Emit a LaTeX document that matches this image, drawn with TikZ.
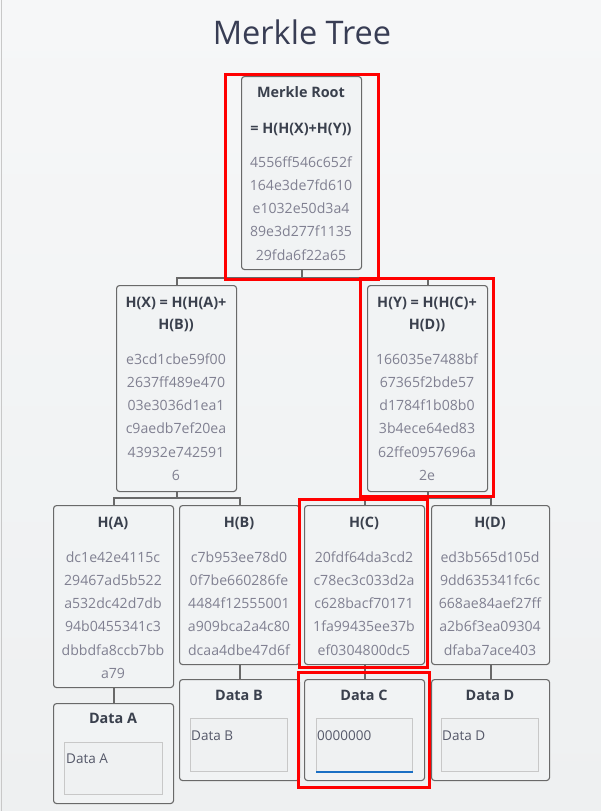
\documentclass[tikz,border=0pt]{standalone}
\usepackage{fontspec}
\setmainfont{Open Sans}
\usetikzlibrary{calc}
\definecolor{bgtop}{RGB}{246,247,248}
\definecolor{bgbot}{RGB}{238,240,241}
\definecolor{boxline}{RGB}{105,105,105}
\definecolor{boxfill}{RGB}{241,243,244}
\definecolor{titlecol}{RGB}{56,61,84}
\definecolor{headcol}{RGB}{58,64,77}
\definecolor{hashcol}{RGB}{128,128,145}
\definecolor{inline}{RGB}{200,200,200}
\definecolor{infill}{RGB}{239,241,242}
\definecolor{intext}{RGB}{85,88,105}
\definecolor{focusblue}{RGB}{26,111,196}
\definecolor{hilite}{RGB}{255,0,0}
\tikzset{
  treebox/.style={draw=boxline, fill=boxfill, line width=1.1pt, rounded corners=3pt, inner sep=0pt, anchor=north west},
  inbox/.style={draw=inline, fill=infill, line width=1pt, inner sep=0pt, anchor=north west},
  headtxt/.style={font=\fontsize{14.4}{16}\selectfont\bfseries, text=headcol, anchor=base, inner sep=0pt},
  hashtxt/.style={font=\fontsize{14.1}{16}\selectfont, text=hashcol, anchor=base, inner sep=0pt},
  intxt/.style={font=\fontsize{13.5}{15}\selectfont, text=intext, anchor=base west, inner sep=0pt},
  link/.style={draw=boxline, line width=2pt},
  redframe/.style={draw=hilite, line width=3pt}
}
\newcommand{\hashlines}[5]{%
  \foreach \t [count=\i] in {#5} {
    \node[hashtxt] (#1-\i) at (#2, {#3+(\i-1)*#4}) {\t};
  }%
}
\begin{document}
\begin{tikzpicture}[x=1pt,y=-1pt]
\useasboundingbox (0,0) rectangle (601,811);
\shade[top color=bgtop, bottom color=bgbot] (0,0) rectangle (601,811);
\draw[inline, line width=1pt] (1,0) -- (1,811);

\node[font=\fontsize{32.5}{36}\selectfont, text=titlecol, anchor=base] (title) at (302,44) {Merkle Tree};

% boxes
\node[treebox, minimum width=120pt, minimum height=193pt] (root) at (241,76) {};
\node[treebox, minimum width=120pt, minimum height=206pt] (hx) at (116,285) {};
\node[treebox, minimum width=120pt, minimum height=206pt] (hy) at (367,285) {};
\node[treebox, minimum width=120pt, minimum height=182pt] (ha) at (53,505) {};
\node[treebox, minimum width=120pt, minimum height=159pt] (hb) at (179,505) {};
\node[treebox, minimum width=120pt, minimum height=159pt] (hc) at (304,505) {};
\node[treebox, minimum width=118pt, minimum height=159pt] (hd) at (431,505) {};
\node[treebox, minimum width=120pt, minimum height=100pt] (da) at (53,703) {};
\node[treebox, minimum width=120pt, minimum height=101pt] (db) at (179,679) {};
\node[treebox, minimum width=120pt, minimum height=101pt] (dc) at (304,679) {};
\node[treebox, minimum width=118pt, minimum height=101pt] (dd) at (431,679) {};

% input fields
\node[inbox, minimum width=98pt, minimum height=52pt] (ia) at (64,742) {};
\node[inbox, minimum width=97pt, minimum height=53pt] (ib) at (190,718) {};
\node[inbox, minimum width=96pt, minimum height=53pt] (ic) at (316,718) {};
\node[inbox, minimum width=97pt, minimum height=53pt] (id) at (441,718) {};
\draw[focusblue, line width=1.5pt] (ic.south west) -- (ic.south east);

% connectors
\coordinate (j1) at ($(root.south)+(0,8)$);
\draw[link] (root.south) -- (j1) -| (hx.north);
\draw[link] (j1) -| (hy.north);
\coordinate (j2) at ($(hx.south)+(0,6)$);
\draw[link] (hx.south) -- (j2) -| (ha.north);
\draw[link] (j2) -| (hb.north);
\coordinate (j3) at ($(hy.south)+(0,6)$);
\draw[link] (hy.south) -- (j3) -| (hc.north);
\draw[link] (j3) -| (hd.north);
\draw[link] (ha.south) -- (da.north);
\draw[link] (hb.south) -- (db.north);
\draw[link] (hc.south) -- (dc.north);
\draw[link] (hd.south) -- (dd.north);

% root text
\node[headtxt] (rt1) at (301,97) {Merkle Root};
\node[headtxt] (rt2) at (301,133) {= H(H(X)+H(Y))};
\hashlines{rh}{301}{167}{23.3}{4556ff546c652f,164e3de7fd610,e1032e50d3a4,89e3d277f1135,29fda6f22a65}

% H(X)
\node[headtxt] (xt1) at (176,307) {H(X) = H(H(A)+};
\node[headtxt] (xt2) at (176,329) {H(B))};
\hashlines{xh}{176}{364}{23.3}{e3cd1cbe59f00,2637ff489e470,03e3036d1ea1,c9aedb7ef20ea,43932e742591,6}

% H(Y)
\node[headtxt] (yt1) at (427,307) {H(Y) = H(H(C)+};
\node[headtxt] (yt2) at (427,329) {H(D))};
\hashlines{yh}{427}{364}{23.3}{166035e7488bf,67365f2bde57,d1784f1b08b0,3b4ece64ed83,62ffe0957696a,2e}

% leaves
\node[headtxt] (at1) at (113,527) {H(A)};
\hashlines{ah}{113}{562}{23.3}{dc1e42e4115c,29467ad5b522,a532dc42d7db,94b0455341c3,dbbdfa8ccb7bb,a79}
\node[headtxt] (bt1) at (239,527) {H(B)};
\hashlines{bh}{239}{562}{23.3}{c7b953ee78d0,0f7be660286fe,4484f12555001,a909bca2a4c80,dcaa4dbe47d6f}
\node[headtxt] (ct1) at (364,527) {H(C)};
\hashlines{ch}{364}{562}{23.3}{20fdf64da3cd2,c78ec3c033d2a,c628bacf70171,1fa99435ee37b,ef0304800dc5}
\node[headtxt] (dt1) at (490,527) {H(D)};
\hashlines{dh}{490}{562}{23.3}{ed3b565d105d,9dd635341fc6c,668ae84aef27ff,a2b6f3ea09304,dfaba7ace403}

% data titles
\node[headtxt] (dat) at (113,723) {Data A};
\node[headtxt] (dbt) at (239,700) {Data B};
\node[headtxt] (dct) at (364,700) {Data C};
\node[headtxt] (ddt) at (490,700) {Data D};
\node[intxt] (iat) at (66,763) {Data A};
\node[intxt] (ibt) at (191,740) {Data B};
\node[intxt] (ict) at (317,740) {0000000};
\node[intxt] (idt) at (442,740) {Data D};

% red highlight frames
\draw[redframe] (225.5,74.5) rectangle (378.5,279.5);
\draw[redframe] (360.5,278.5) rectangle (493.5,496.5);
\draw[redframe] (299.5,499.5) rectangle (427.5,667.5);
\draw[redframe] (298.5,672.5) rectangle (429.5,787.5);
\end{tikzpicture}
\end{document}
